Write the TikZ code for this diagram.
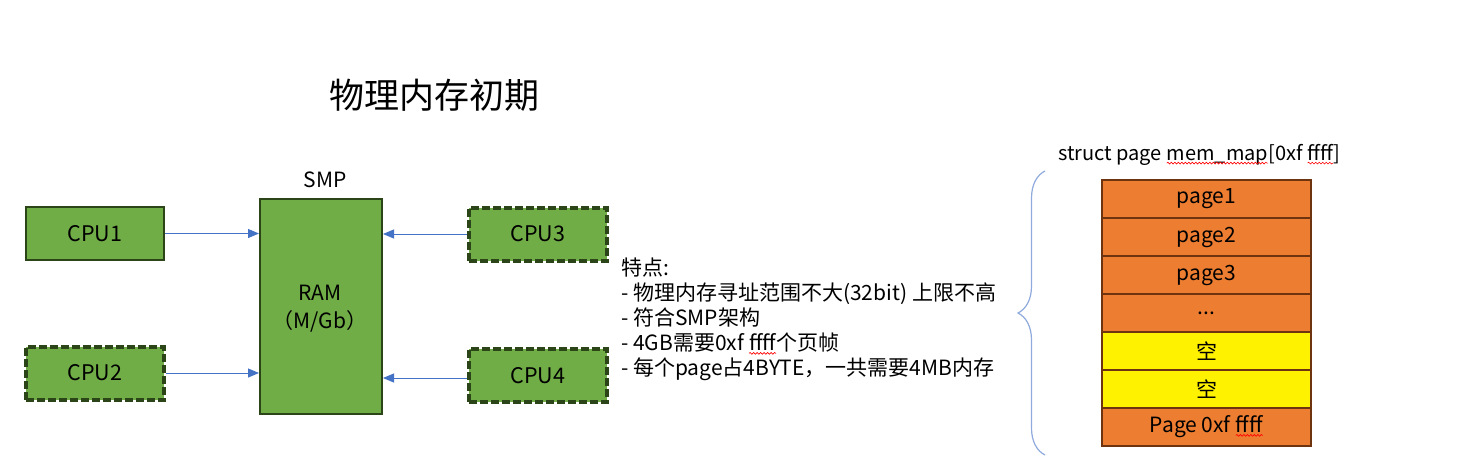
\documentclass[tikz,border=0pt]{standalone}
\usepackage{fontspec}
\setmainfont{Noto Sans CJK SC}
\usetikzlibrary{arrows.meta,decorations.pathreplacing,decorations.pathmorphing}
\definecolor{cpugreen}{HTML}{70AD47}
\definecolor{cpuborder}{HTML}{2B4519}
\definecolor{pageorange}{HTML}{ED7D31}
\definecolor{pageborder}{HTML}{6E340F}
\definecolor{arrowblue}{HTML}{4472C4}
\definecolor{bracecol}{HTML}{8FAADC}
\tikzset{
  cpubox/.style={draw=cpuborder, fill=cpugreen, line width=2pt, minimum width=138pt, minimum height=53pt, inner sep=0pt, font=\fontsize{21.5}{24}\selectfont},
  cpudash/.style={cpubox, line width=4pt, dash pattern=on 8pt off 3pt},
  link/.style={draw=arrowblue, line width=1pt, -{Triangle[length=11pt,width=9pt]}},
  pagerow/.style={draw=pageborder, fill=pageorange, line width=1.6pt, outer sep=0pt, minimum width=209pt, minimum height=38pt, inner sep=0pt, font=\fontsize{21}{24}\selectfont},
  emptyrow/.style={pagerow, fill=yellow},
  spell/.style={draw=red, solid, line width=0.6pt, decorate, decoration={snake, amplitude=0.9pt, segment length=3.5pt}},
  plain/.style={inner sep=0pt, font=\fontsize{21}{24}\selectfont}
}
\newcommand\squig[1]{\tikz[x=1pt,y=1pt,baseline=(sqw.base)]{\node[draw=none,fill=none,inner sep=0pt,outer sep=0pt,minimum width=0pt,minimum height=0pt] (sqw) {#1};\draw[spell] ([yshift=-2.5pt]sqw.base west) -- ([yshift=-2.5pt]sqw.base east);}}
\begin{document}
\begin{tikzpicture}[x=1pt,y=-1pt]
\useasboundingbox (0,0) rectangle (1474,456);
% title
\node[inner sep=0pt, font=\fontsize{35}{40}\selectfont] (title) at (434,95) {物理内存初期};
% RAM
\node[draw=cpuborder, fill=cpugreen, line width=2pt, minimum width=122pt, minimum height=215pt, inner sep=0pt] (ram) at (321,306.5) {};
\node[plain, align=center, font=\fontsize{21}{28}\selectfont] (ramtxt) at (320,309) {RAM\\（M/Gb）};
\node[plain] (smp) at (325,180) {SMP};
% CPUs
\node[cpubox] (cpu1) at (95,233.5) {CPU1};
\node[cpudash] (cpu2) at (95,373) {CPU2};
\node[cpudash] (cpu3) at (538,234) {CPU3};
\node[cpudash] (cpu4) at (538,375.5) {CPU4};
% arrows
\draw[link] (cpu1.east) -- (cpu1.east -| ram.west);
\draw[link] (cpu2.east) -- (cpu2.east -| ram.west);
\draw[link] (cpu3.west) -- (cpu3.west -| ram.east);
\draw[link] ([yshift=-2.5pt]cpu4.west) -- ([yshift=-2.5pt]cpu4.west -| ram.east);
% notes
\node[plain, anchor=north west, align=left, font=\fontsize{21}{25}\selectfont] (notes) at (621,258) {特点:\\- 物理内存寻址范围不大(32bit) 上限不高\\- 符合SMP架构\\- 4GB需要0xf \squig{ffff}个页帧\\- 每个page占4BYTE，一共需要4MB内存};
% struct label
\node[plain, anchor=west, font=\fontsize{20}{24}\selectfont] (struct) at (1058,155) {struct page \squig{mem\_map}[0xf \squig{ffff}]};
% table
\node[pagerow] (r1) at (1206.5,199) {page1};
\node[pagerow, anchor=north] (r2) at (r1.south) {page2};
\node[pagerow, anchor=north] (r3) at (r2.south) {page3};
\node[pagerow, anchor=north] (r4) at (r3.south) {...};
\node[emptyrow, anchor=north] (r5) at (r4.south) {空};
\node[emptyrow, anchor=north] (r6) at (r5.south) {空};
\node[pagerow, anchor=north] (r7) at (r6.south) {Page 0xf \squig{ffff}};
% brace
\coordinate (bracebot) at (1045,455);
\coordinate (bracetop) at (1045,171);
\draw[bracecol, line width=1.2pt, decorate, decoration={brace, amplitude=27pt, aspect=0.5}] (bracebot) -- (bracetop);
\end{tikzpicture}
\end{document}
